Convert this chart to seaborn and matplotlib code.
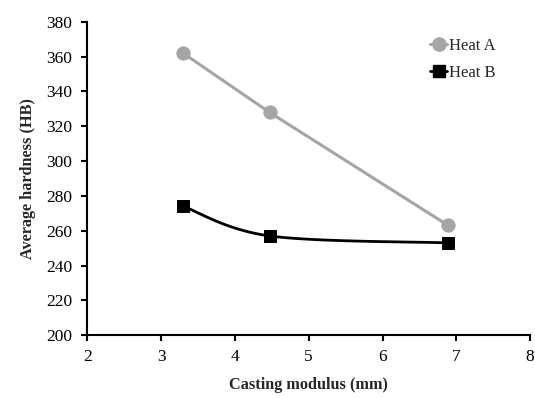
import numpy as np
import pandas as pd
import seaborn as sns
import matplotlib.pyplot as plt
from matplotlib.lines import Line2D

# data
modulus = [3.30, 4.47, 6.89]
heat_a = [362, 328, 263]
heat_b = [274, 257, 253]


def smooth(xs, ys, n=40):
    # Catmull-Rom style smoothing, like a spreadsheet "smoothed line"
    px = np.array(xs, dtype=float)
    py = np.array(ys, dtype=float)
    px = np.concatenate([[px[0]], px, [px[-1]]])
    py = np.concatenate([[py[0]], py, [py[-1]]])
    out_x, out_y = [], []
    for i in range(1, len(px) - 2):
        p0, p1, p2, p3 = (np.array([px[j], py[j]]) for j in range(i - 1, i + 3))
        c1 = p1 + (p2 - p0) / 6
        c2 = p2 - (p3 - p1) / 6
        t = np.linspace(0, 1, n)[:, None]
        pts = ((1 - t) ** 3) * p1 + 3 * ((1 - t) ** 2) * t * c1 + 3 * (1 - t) * t ** 2 * c2 + t ** 3 * p2
        out_x.extend(pts[:, 0])
        out_y.extend(pts[:, 1])
    return out_x, out_y


sns.set_style('white')
plt.rcParams['font.family'] = ['Liberation Serif', 'DejaVu Serif']

fig = plt.figure(figsize=(5.35, 3.98), dpi=100)
ax = fig.add_axes([0.163, 0.158, 0.828, 0.787])

grey = '#A5A5A5'
df_a = pd.DataFrame({'x': modulus, 'y': heat_a})
sns.lineplot(data=df_a, x='x', y='y', ax=ax, color=grey, lw=2.2,
             marker='o', markersize=9.5, markeredgecolor=grey, label='Heat A')

sx, sy = smooth(modulus, heat_b)
sns.lineplot(x=sx, y=sy, ax=ax, color='black', lw=2, sort=False, estimator=None)
df_b = pd.DataFrame({'x': modulus, 'y': heat_b})
sns.scatterplot(data=df_b, x='x', y='y', ax=ax, color='black', marker='s', s=75,
                edgecolor='black', zorder=5)

# legend handles
handles = [Line2D([], [], color=grey, lw=2.2, marker='o', markersize=9.5),
           Line2D([], [], color='black', lw=2, marker='s', markersize=8.5)]
ax.legend(handles, ['Heat A', 'Heat B'], loc='upper right', bbox_to_anchor=(0.955, 0.997),
          frameon=False, fontsize=12, handlelength=1.0, handletextpad=0.1, labelspacing=0.65)

ax.set_xlim(2, 8)
ax.set_ylim(200, 380)
ax.set_xticks(range(2, 9))
ax.set_yticks(range(200, 381, 20))
for side in ['top', 'right']:
    ax.spines[side].set_visible(False)
for side in ['left', 'bottom']:
    ax.spines[side].set_color('black')
    ax.spines[side].set_linewidth(1.5)
ax.tick_params(direction='out', length=4, width=1.5, colors='black', labelsize=12.5,
               left=True, bottom=True)
ax.tick_params(axis='y', pad=7)
ax.tick_params(axis='x', pad=6)
ax.set_xlabel('Casting modulus (mm)', fontsize=11.7, fontweight='bold', va='center')
ax.set_ylabel('Average hardness (HB)', fontsize=11.7, fontweight='bold', va='center')
ax.xaxis.set_label_coords(0.5, -0.16)
ax.yaxis.set_label_coords(-0.134, 0.5)

fig.savefig('out.png', dpi=100)
